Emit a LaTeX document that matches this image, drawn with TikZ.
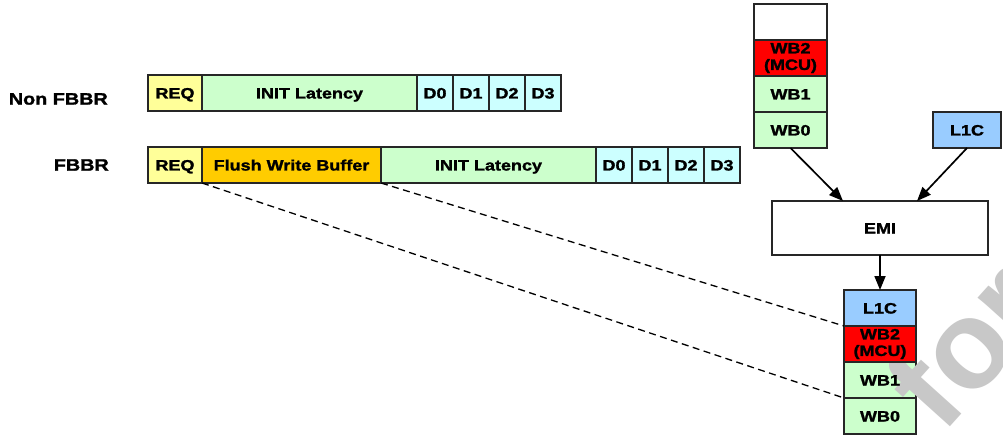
\documentclass[tikz,border=0pt]{standalone}
\usepackage{fontspec}
\setmainfont{Liberation Sans}[FakeStretch=1.2, BoldFeatures={FakeBold=1.6}]
\newfontfamily\wmfont{Liberation Sans}
\usetikzlibrary{arrows.meta,calc}
\definecolor{reqc}{HTML}{FFFF99}
\definecolor{initc}{HTML}{CCFFCC}
\definecolor{datac}{HTML}{CCFFFF}
\definecolor{flushc}{HTML}{FFCC00}
\definecolor{mcuc}{HTML}{FF0000}
\definecolor{cachec}{HTML}{99CCFF}
\definecolor{wmark}{RGB}{200,200,200}
\begin{document}
\begin{tikzpicture}[x=1pt,y=-1pt,
  cell/.style={draw=black!85, line width=1.6pt, inner sep=0pt, outer sep=0pt,
    minimum height=36pt, text height=11pt, text depth=0pt,
    font=\fontsize{15}{16}\selectfont\bfseries},
  twoline/.style={cell, align=center, text height=, text depth=,
    font=\fontsize{15}{16.5}\selectfont\bfseries},
  celltext/.style={inner sep=0pt, text height=11pt, text depth=0pt,
    font=\fontsize{15}{16}\selectfont\bfseries},
  dcell/.style={cell, fill=datac, minimum width=36pt},
  rowlabel/.style={anchor=east, inner sep=0pt, font=\fontsize{16.5}{18}\selectfont\bfseries},
  flow/.style={line width=1.7pt, -{Triangle[length=14pt,width=11pt]}},
  link/.style={line width=1.3pt, dash pattern=on 7pt off 4.5pt}]
\useasboundingbox (0,0) rectangle (1003,438);
\fill[white] (0,0) rectangle (1003,438);

% row labels
\node[rowlabel] (lnon) at (108,99) {Non FBBR};
\node[rowlabel] (lfb) at (109,165) {FBBR};

% Non FBBR timeline
\node[cell, fill=reqc, minimum width=54pt] (reqa) at (175,93) {REQ};
\node[cell, fill=initc, minimum width=215pt] (inita) at (309.5,93) {INIT Latency};
\node[dcell] (da0) at (435,93) {D0};
\node[dcell] (da1) at (471,93) {D1};
\node[dcell] (da2) at (507,93) {D2};
\node[dcell] (da3) at (543,93) {D3};

% FBBR timeline
\node[cell, fill=reqc, minimum width=54pt] (reqb) at (175,165) {REQ};
\node[cell, fill=flushc, minimum width=179pt] (flush) at (291.5,165) {Flush Write Buffer};
\node[cell, fill=initc, minimum width=215pt] (initb) at (488.5,165) {INIT Latency};
\node[dcell] (db0) at (614,165) {D0};
\node[dcell] (db1) at (650,165) {D1};
\node[dcell] (db2) at (686,165) {D2};
\node[dcell] (db3) at (722,165) {D3};

% write buffer stack before the flush
\node[cell, fill=white, minimum width=73pt] (wbe) at (790.5,22) {};
\node[twoline, fill=mcuc, minimum width=73pt] (wb2a) at (790.5,58) {WB2\\(MCU)};
\node[cell, fill=initc, minimum width=73pt] (wb1a) at (790.5,94) {WB1};
\node[cell, fill=initc, minimum width=73pt] (wb0a) at (790.5,130) {WB0};
\node[cell, fill=cachec, minimum width=68pt] (l1ca) at (967,130) {L1C};

% external memory interface
\node[cell, fill=white, minimum width=216pt, minimum height=54pt] (emi) at (880,228) {EMI};

% order of transfers through EMI (green cells first, lettered after the watermark)
\node[cell, fill=initc, minimum width=72pt] (wb1b) at (880,380) {};
\node[cell, fill=initc, minimum width=72pt] (wb0b) at (880,416) {};

% watermark
\begin{scope}
\clip (0,0) rectangle (1003,438);
\node[rotate=48, anchor=base west, inner sep=0pt, text=wmark,
  font=\wmfont\fontsize{125}{125}\selectfont\bfseries] (wm) at (942,436) {for};
\end{scope}

\node[cell, fill=cachec, minimum width=72pt] (l1cb) at (880,308) {L1C};
\node[twoline, fill=mcuc, minimum width=72pt] (wb2b) at (880,344) {WB2\\(MCU)};
\node[celltext] (wb1t) at (wb1b.center) {WB1};
\node[celltext] (wb0t) at (wb0b.center) {WB0};

% connectors
\draw[flow] (wb0a.south) -- ($(emi.north)+(-37,0)$);
\draw[flow] (l1ca.south) -- ($(emi.north)+(37,0)$);
\draw[flow] (emi.south) -- (l1cb.north);
\draw[link] (flush.south east) -- (wb2b.north west);
\draw[link] (reqb.south east) -- (wb0b.north west);
\end{tikzpicture}
\end{document}
